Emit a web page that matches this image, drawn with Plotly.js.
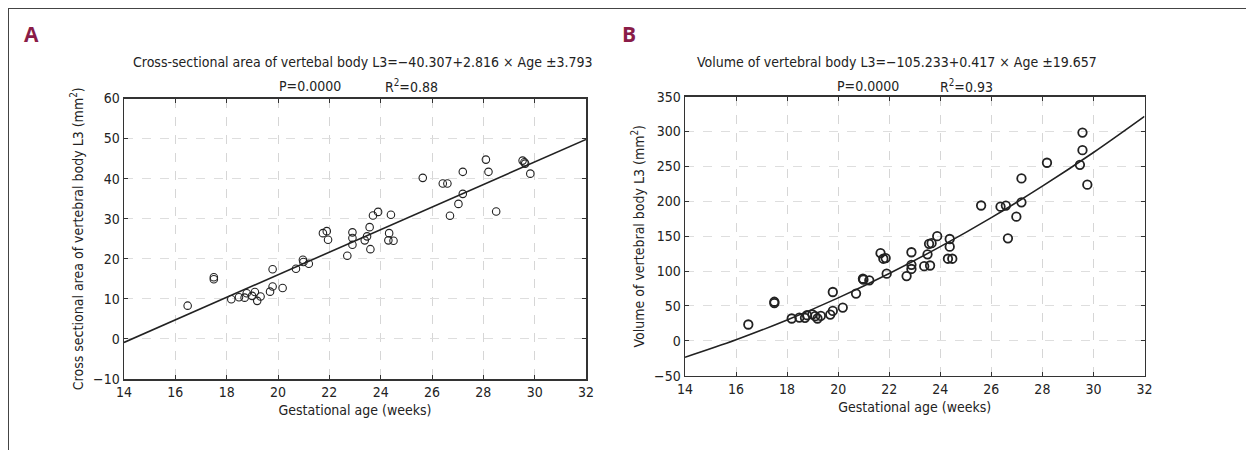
<!DOCTYPE html>
<html>
<head>
<meta charset="utf-8">
<script src="https://cdn.plot.ly/plotly-3.0.1.min.js"></script>
<style>
  html, body { margin: 0; padding: 0; background: #fff; }
  #chart { width: 1246px; height: 450px; }
  #frame { position: absolute; left: 8px; top: 8px; width: 1238px; height: 442px;
           border-top: 1.5px solid #444; border-left: 1.5px solid #444; pointer-events: none; }
</style>
</head>
<body>
<div id="chart"></div>
<div id="frame"></div>
<script>
// ---- Panel A: cross-sectional area ----
const ageA = [16.48, 17.5, 17.5, 18.18, 18.48, 18.7, 18.78, 18.99, 19.1, 19.19, 19.32, 19.69, 19.79, 19.79, 20.18, 20.7, 20.97, 20.99, 21.2, 21.75, 21.9, 21.95, 22.7, 22.9, 22.9, 22.9, 23.38, 23.47, 23.57, 23.6, 23.7, 23.9, 24.33, 24.4, 24.3, 24.5, 25.64, 26.42, 26.6, 27.2, 27.2, 27.03, 26.7, 28.1, 28.2, 28.5, 29.53, 29.6, 29.63, 29.83];
const areaA = [8.3, 15.4, 14.9, 9.9, 10.4, 10.3, 11.4, 10.75, 11.7, 9.5, 10.6, 11.8, 13.1, 17.4, 12.7, 17.5, 19.75, 19.2, 18.75, 26.4, 26.9, 24.75, 20.75, 26.6, 25.2, 23.5, 24.6, 25.6, 27.9, 22.4, 30.8, 31.7, 26.4, 31.0, 24.6, 24.5, 40.2, 38.8, 38.8, 41.7, 36.2, 33.7, 30.75, 44.75, 41.7, 31.8, 44.5, 44.1, 43.75, 41.25];
const fitAgeA = [14, 32];
const fitAreaA = [-0.88, 49.8];

// ---- Panel B: volume ----
const ageB = [16.48, 17.5, 17.5, 18.18, 18.48, 18.7, 18.78, 18.99, 19.1, 19.19, 19.32, 19.69, 19.79, 19.79, 20.18, 20.7, 20.97, 20.99, 21.22, 21.66, 21.77, 21.86, 21.9, 22.68, 22.87, 22.87, 22.87, 23.37, 23.5, 23.56, 23.66, 23.6, 23.88, 24.3, 24.47, 24.37, 24.37, 25.6, 26.36, 26.57, 27.18, 27.18, 26.98, 26.65, 28.18, 29.57, 29.57, 29.47, 29.76];
const volB = [23.4, 56, 54, 32, 33.4, 33, 36.7, 38, 35.3, 32, 35.7, 37.7, 42.9, 70, 47.7, 67.7, 89, 87.7, 86.7, 125.7, 117.7, 118.6, 96.3, 92.9, 127, 109, 103, 107, 124, 139, 140, 108, 150, 117.7, 117.7, 146, 135, 194, 192.4, 193.9, 232.9, 198.6, 178, 147, 255.3, 298.6, 273.4, 252.4, 223.9];
const fitAgeB = [14, 16, 18, 20, 22, 24, 26, 28, 30, 32];
const fitVolB = [-23.5, 1.5, 29.9, 61.6, 96.6, 135.0, 176.6, 221.7, 270.0, 321.8];

const xTicks = [14, 16, 18, 20, 22, 24, 26, 28, 30, 32];
const yTicksA = [-10, 0, 10, 20, 30, 40, 50, 60];
const yTicksB = [-50, 0, 50, 100, 150, 200, 250, 300, 350];

const titleA = "Cross-sectional area of vertebal body L3=\u221240.307+2.816 \u00d7 Age \u00b13.793";
const titleB = "Volume of vertebral body L3=\u2212105.233+0.417 \u00d7 Age \u00b119.657";
const pText = "P=0.0000";
const r2A = "R<sup>2</sup>=0.88";
const r2B = "R<sup>2</sup>=0.93";
const yTitleA = "Cross sectional area of vertebral body L3 (mm<sup>2</sup>)";
const yTitleB = "Volume of vertebral body L3 (mm<sup>2</sup>)";
const xTitle = "Gestational age (weeks)";

const W = 1246, H = 450;
const px = x => x / W;
const py = y => 1 - y / H;
const FONT = "'DejaVu Sans Condensed', 'Liberation Sans Narrow', sans-serif";

const traces = [
  { x: ageA, y: areaA, xaxis: 'x', yaxis: 'y', mode: 'markers', type: 'scatter',
    marker: { symbol: 'circle-open', size: 7.5, color: '#222', line: { width: 1.1, color: '#222' } } },
  { x: fitAgeA, y: fitAreaA, xaxis: 'x', yaxis: 'y', mode: 'lines', type: 'scatter',
    line: { color: '#222', width: 1.6 } },
  { x: ageB, y: volB, xaxis: 'x2', yaxis: 'y2', mode: 'markers', type: 'scatter',
    marker: { symbol: 'circle-open', size: 8.5, color: '#222', line: { width: 1.8, color: '#222' } } },
  { x: fitAgeB, y: fitVolB, xaxis: 'x2', yaxis: 'y2', mode: 'lines', type: 'scatter',
    line: { color: '#222', width: 1.6, shape: 'spline' } }
];

function xaxisCfg(domain, anchor) {
  return {
    domain: domain, anchor: anchor, range: [14, 32], tickvals: xTicks,
    showline: true, linecolor: '#333', linewidth: 1.5, mirror: 'ticks',
    ticks: 'inside', ticklen: 4, tickcolor: '#333',
    showgrid: true, gridcolor: '#d6d6d6', griddash: 'dash', gridwidth: 1,
    zeroline: false, tickfont: { family: FONT, size: 14, color: '#222' },
    title: { text: xTitle, font: { family: FONT, size: 14, color: '#222' }, standoff: 6 }
  };
}
function yaxisCfg(domain, anchor, range, ticks, title) {
  return {
    domain: domain, anchor: anchor, range: range, tickvals: ticks,
    showline: true, linecolor: '#333', linewidth: 1.5, mirror: 'ticks',
    ticks: 'inside', ticklen: 4, tickcolor: '#333',
    showgrid: true, gridcolor: '#dedede', griddash: 'dash', gridwidth: 1,
    zeroline: false, tickfont: { family: FONT, size: 14, color: '#222' },
    title: { text: title, font: { family: FONT, size: 14, color: '#222' }, standoff: 6 }
  };
}

const ann = (text, x, y, opts = {}) => Object.assign({
  text: text, xref: 'paper', yref: 'paper', x: px(x), y: py(y),
  xanchor: 'center', yanchor: 'middle', showarrow: false,
  font: { family: FONT, size: 14, color: '#222' }
}, opts);

const layout = {
  width: W, height: H, margin: { l: 0, r: 0, t: 0, b: 0 },
  paper_bgcolor: '#fff', plot_bgcolor: '#fff', showlegend: false,
  xaxis: xaxisCfg([px(124), px(586)], 'y'),
  yaxis: yaxisCfg([py(379), py(98.5)], 'x', [-10, 60], yTicksA, yTitleA),
  xaxis2: xaxisCfg([px(685), px(1144.5)], 'y2'),
  yaxis2: yaxisCfg([py(375.7), py(96.7)], 'x2', [-50, 350], yTicksB, yTitleB),
  annotations: [
    ann('<b>A</b>', 22, 34, { xanchor: 'left', font: { family: "'Open Sans', 'DejaVu Sans', sans-serif", size: 21, color: '#8a1c48' } }),
    ann('<b>B</b>', 620, 34, { xanchor: 'left', font: { family: "'Open Sans', 'DejaVu Sans', sans-serif", size: 21, color: '#8a1c48' } }),
    ann(titleA, 363, 62),
    ann(pText, 310, 86),
    ann(r2A, 411, 86),
    ann(titleB, 897, 62),
    ann(pText, 868, 86),
    ann(r2B, 967, 86)
  ]
};

Plotly.newPlot('chart', traces, layout, { displayModeBar: false, staticPlot: true });
</script>
</body>
</html>
